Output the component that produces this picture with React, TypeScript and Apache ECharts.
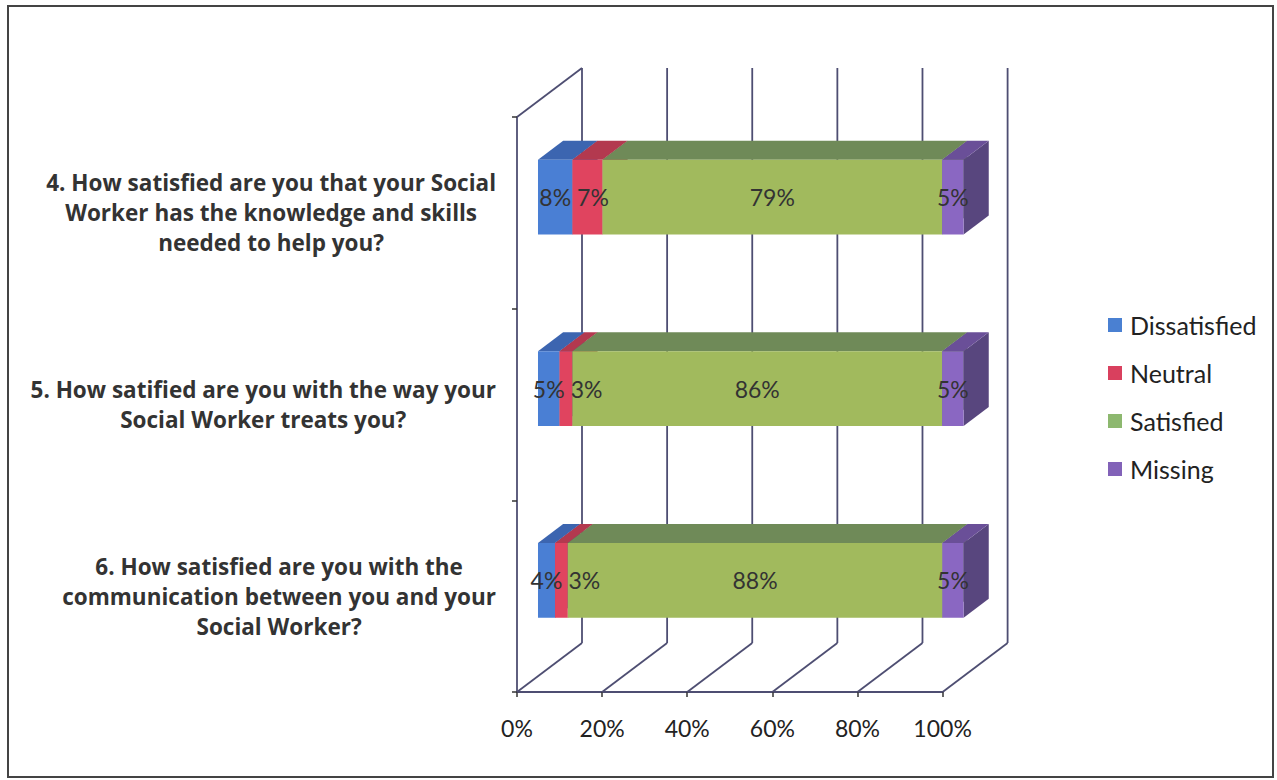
import React, { useEffect, useRef } from "react";
import * as echarts from "echarts";

// ---------- data ----------
const categories = [
  "4. How satisfied are you that your Social\nWorker has the knowledge and skills\nneeded to help you?",
  "5. How satified are you with the way your\nSocial Worker treats you?",
  "6. How satisfied are you with the\ncommunication between you and your\nSocial Worker?",
];
const seriesNames = ["Dissatisfied", "Neutral", "Satisfied", "Missing"];
const dissatisfied = [8, 5, 4];
const neutral = [7, 3, 3];
const satisfied = [79, 86, 88];
const missing = [5, 5, 5];
const xTicks = [0, 20, 40, 60, 80, 100];

const seriesValues = [dissatisfied, neutral, satisfied, missing];
const rowTotals = categories.map((_, i) => seriesValues.reduce((s, arr) => s + arr[i], 0));

// ---------- styles ----------
const faceColors = [
  { front: "#4a7fd4", top: "#3c65b0", side: "#34589a", legend: "#4a80d2" },
  { front: "#e0445f", top: "#b3394f", side: "#9a3245", legend: "#d9405e" },
  { front: "#a1ba5d", top: "#6f8a58", side: "#5f7a48", legend: "#8db86f" },
  { front: "#8a67c2", top: "#6a4f98", side: "#58467e", legend: "#8262b8" },
];
const LINE_COLOR = "#4e4e72";
const DEPTH_X = 65;
const DEPTH_Y = 49;
const BAR_FRONT = 0.323;
const BAR_BACK = 0.71;
const BAR_H_RATIO = 0.39;
const LABEL_GAP = 6;
const FONT = "Lato, 'Open Sans', sans-serif";
const LABEL_FONT_SIZE = 23;

let measureCtx: CanvasRenderingContext2D | null = null;
function measure(text: string): number {
  if (!measureCtx) {
    measureCtx = document.createElement("canvas").getContext("2d");
  }
  if (!measureCtx) return text.length * 12;
  measureCtx.font = `${LABEL_FONT_SIZE}px Lato`;
  return measureCtx.measureText(text).width;
}

function labelCenters(api: any, ci: number): number[] {
  const fx = DEPTH_X * BAR_FRONT;
  const total = rowTotals[ci];
  let acc = 0;
  let prevRight = -1e9;
  const out: number[] = [];
  seriesValues.forEach((vals) => {
    const v = vals[ci];
    const xa = api.coord([(acc / total) * 100, ci])[0];
    acc += v;
    const xb = api.coord([(acc / total) * 100, ci])[0];
    const cx = (xa + xb) / 2 + fx;
    const w = measure(v + "%");
    const left = Math.max(cx - w / 2, prevRight + LABEL_GAP);
    out.push(left + w / 2);
    prevRight = left + w;
  });
  return out;
}

function makeBarSeries(k: number) {
  const data = categories.map((_, i) => {
    let before = 0;
    for (let j = 0; j < k; j++) before += seriesValues[j][i];
    const v = seriesValues[k][i];
    const t = rowTotals[i];
    return [(before / t) * 100, ((before + v) / t) * 100, i, v];
  });
  const c = faceColors[k];
  return {
    type: "custom",
    name: seriesNames[k],
    z: 3,
    itemStyle: { color: c.legend },
    encode: { x: [0, 1], y: 2 },
    data,
    renderItem: (params: any, api: any) => {
      const s = api.value(0);
      const e = api.value(1);
      const ci = api.value(2);
      const raw = api.value(3);
      const a = api.coord([s, ci]);
      const b = api.coord([e, ci]);
      const bandH = api.size([0, 1])[1];
      const h = bandH * BAR_H_RATIO;
      const fx = DEPTH_X * BAR_FRONT;
      const fy = -DEPTH_Y * BAR_FRONT;
      const ddx = DEPTH_X * (BAR_BACK - BAR_FRONT);
      const ddy = -DEPTH_Y * (BAR_BACK - BAR_FRONT);
      const x0 = a[0] + fx;
      const x1 = b[0] + fx;
      const yC = a[1] + fy;
      const yT = yC - h / 2;
      const yB = yC + h / 2;
      const centers = labelCenters(api, ci);
      return {
        type: "group",
        children: [
          {
            type: "polygon",
            z2: k * 3,
            shape: { points: [[x1, yT], [x1, yB], [x1 + ddx, yB + ddy], [x1 + ddx, yT + ddy]] },
            style: { fill: c.side },
          },
          {
            type: "polygon",
            z2: k * 3 + 1,
            shape: { points: [[x0, yT], [x1, yT], [x1 + ddx, yT + ddy], [x0 + ddx, yT + ddy]] },
            style: { fill: c.top },
          },
          {
            type: "rect",
            z2: k * 3 + 2,
            shape: { x: x0, y: yT, width: x1 - x0, height: h },
            style: { fill: c.front },
          },
          {
            type: "text",
            z2: 100,
            style: {
              x: centers[k],
              y: yC,
              text: raw + "%",
              fill: "#333",
              font: `${LABEL_FONT_SIZE}px ${FONT}`,
              align: "center",
              verticalAlign: "middle",
            },
          },
        ],
      };
    },
  };
}

const frameSeries = {
  type: "custom",
  name: "frame",
  z: 1,
  silent: true,
  encode: { x: 0, y: 1 },
  data: xTicks.map((v) => [v, 0]),
  renderItem: (params: any, api: any) => {
    const v = api.value(0);
    const x = api.coord([v, 0])[0];
    const cs = params.coordSys;
    const top = cs.y;
    const bottom = cs.y + cs.height;
    const ls = { stroke: LINE_COLOR, lineWidth: 1.8 };
    const children: any[] = [
      { type: "line", shape: { x1: x, y1: bottom, x2: x + DEPTH_X, y2: bottom - DEPTH_Y }, style: ls },
      { type: "line", shape: { x1: x + DEPTH_X, y1: bottom - DEPTH_Y, x2: x + DEPTH_X, y2: top - DEPTH_Y }, style: ls },
    ];
    if (v === xTicks[0]) {
      children.push({ type: "line", shape: { x1: x, y1: top, x2: x + DEPTH_X, y2: top - DEPTH_Y }, style: ls });
    }
    return { type: "group", children };
  },
};

export default function App() {
  const ref = useRef<HTMLDivElement>(null);
  useEffect(() => {
    if (!ref.current) return;
    const chart = echarts.init(ref.current, undefined, { renderer: "svg" });
    chart.setOption({
      animation: false,
      backgroundColor: "#ffffff",
      graphic: [
        {
          type: "rect",
          shape: { x: 8, y: 6, width: 1265, height: 771 },
          style: { fill: "none", stroke: "#444", lineWidth: 2 },
          z: 0,
        },
      ],
      legend: {
        orient: "vertical",
        left: 1103,
        top: 307,
        itemWidth: 14,
        itemHeight: 14,
        itemGap: 22,
        icon: "rect",
        data: seriesNames,
        textStyle: {
          fontFamily: FONT,
          fontSize: 25,
          color: "#222",
          lineHeight: 26,
          padding: [0, 0, 0, 3],
        },
      },
      grid: { left: 517, top: 117, width: 425.6, height: 575 },
      xAxis: {
        type: "value",
        min: 0,
        max: 100,
        interval: 20,
        axisLine: { show: true, lineStyle: { color: LINE_COLOR, width: 1.8 } },
        axisTick: { show: true, length: 5, lineStyle: { color: "#333", width: 1.5 } },
        splitLine: { show: false },
        axisLabel: {
          formatter: "{value}%",
          fontFamily: FONT,
          fontSize: 23,
          color: "#222",
          margin: 25,
          lineHeight: 22,
        },
      },
      yAxis: {
        type: "category",
        inverse: true,
        data: categories,
        axisLine: { show: true, lineStyle: { color: LINE_COLOR, width: 1.8 } },
        axisTick: { show: true, length: 5, lineStyle: { color: "#333", width: 1.5 } },
        axisLabel: {
          margin: 21,
          formatter: (val: string) =>
            val
              .split("\n")
              .map((l) => `{c|${l}}`)
              .join("\n"),
          rich: {
            c: {
              align: "center",
              fontFamily: "'Open Sans', sans-serif",
              fontWeight: "bold",
              fontSize: 22.5,
              color: "#333",
              lineHeight: 30,
            },
          },
        },
      },
      series: [frameSeries, ...seriesNames.map((_, k) => makeBarSeries(k))],
    });
    return () => chart.dispose();
  }, []);
  return (
    <div
      ref={ref}
      style={{ position: "absolute", left: 0, top: 0, width: 1277, height: 780 }}
    />
  );
}
